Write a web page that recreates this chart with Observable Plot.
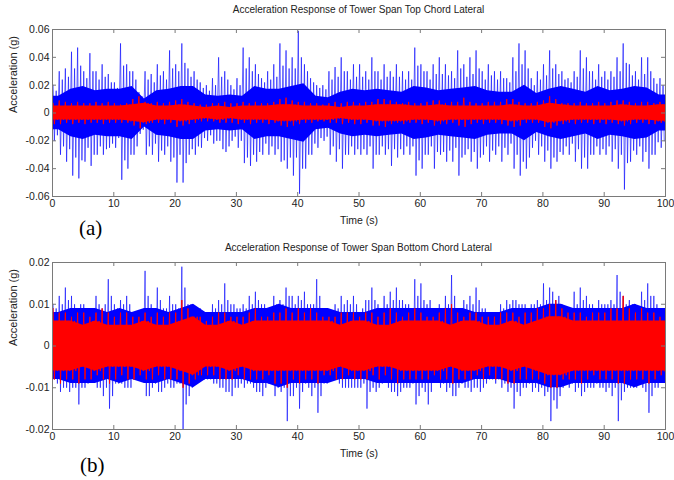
<!DOCTYPE html>
<html><head><meta charset="utf-8">
<script src="https://cdn.jsdelivr.net/npm/d3@7"></script>
<script src="https://cdn.jsdelivr.net/npm/@observablehq/plot@0.6"></script>
<style>
body{margin:0;background:#fff;}
#wrap{position:relative;width:674px;height:480px;font-family:"Liberation Sans",Arial,sans-serif;overflow:hidden;}
.title{position:absolute;left:52px;width:613px;text-align:center;font-size:10px;color:#222;line-height:12px;}
.tag{position:absolute;font-family:"Liberation Serif","Times New Roman",serif;font-size:21px;color:#000;line-height:24px;}
.panel{position:absolute;left:0;}
</style></head><body>
<div id="wrap">
 <div class="panel" id="pa" style="top:0"></div>
 <div class="panel" id="pb" style="top:240px"></div>
 <div class="title" style="top:4px">Acceleration Response of Tower Span Top Chord Lateral</div>
 <div class="title" style="top:242px">Acceleration Response of Tower Span Bottom Chord Lateral</div>
 <div class="tag" style="left:79px;top:216px">(a)</div>
 <div class="tag" style="left:80px;top:453px">(b)</div>
</div>
<script>
// ---- shared ticks ----
const timeTicks = [0,10,20,30,40,50,60,70,80,90,100];
const topYTicks = [-0.06,-0.04,-0.02,0,0.02,0.04,0.06];
const botYTicks = [-0.02,-0.01,0,0.01,0.02];

// ---- (a) Top chord: per-second blue peaks ----
const topBlueUp = [0.02,0.03,0.032,0.044,0.047,0.03,0.043,0.03,0.035,0.028,
 0.022,0.05,0.035,0.03,0.015,0.03,0.028,0.035,0.03,0.045,
 0.035,0.05,0.032,0.03,0.022,0.02,0.025,0.04,0.03,0.02,
 0.025,0.047,0.04,0.035,0.025,0.03,0.035,0.05,0.045,0.04,
 0.059,0.035,0.025,0.02,0.02,0.03,0.033,0.04,0.03,0.035,
 0.035,0.03,0.04,0.03,0.035,0.03,0.035,0.03,0.03,0.047,
 0.035,0.03,0.035,0.04,0.035,0.03,0.045,0.035,0.04,0.045,
 0.03,0.035,0.03,0.03,0.025,0.04,0.05,0.045,0.025,0.03,
 0.035,0.045,0.035,0.03,0.025,0.03,0.045,0.04,0.03,0.035,
 0.03,0.03,0.04,0.05,0.035,0.03,0.04,0.04,0.025,0.025];
const topBlueDown = [-0.02,-0.03,-0.035,-0.045,-0.047,-0.035,-0.038,-0.03,-0.03,-0.025,
 -0.025,-0.048,-0.04,-0.03,-0.015,-0.03,-0.03,-0.035,-0.03,-0.035,
 -0.05,-0.05,-0.03,-0.03,-0.025,-0.02,-0.022,-0.02,-0.028,-0.02,
 -0.025,-0.036,-0.038,-0.035,-0.03,-0.03,-0.03,-0.035,-0.04,-0.045,
 -0.058,-0.04,-0.03,-0.025,-0.02,-0.03,-0.035,-0.04,-0.03,-0.03,
 -0.03,-0.03,-0.04,-0.03,-0.03,-0.038,-0.032,-0.03,-0.03,-0.045,
 -0.04,-0.03,-0.04,-0.03,-0.035,-0.035,-0.045,-0.03,-0.035,-0.04,
 -0.03,-0.035,-0.03,-0.035,-0.03,-0.04,-0.045,-0.04,-0.025,-0.03,
 -0.035,-0.04,-0.035,-0.03,-0.03,-0.035,-0.04,-0.04,-0.03,-0.03,
 -0.03,-0.035,-0.04,-0.055,-0.035,-0.03,-0.035,-0.04,-0.03,-0.025];
// per second: typical secondary swing
const topBlueMid = [0.016,0.024,0.026,0.032,0.034,0.025,0.03,0.024,0.026,0.022,
 0.018,0.034,0.03,0.024,0.012,0.024,0.022,0.027,0.024,0.032,
 0.03,0.036,0.026,0.024,0.018,0.016,0.02,0.026,0.024,0.017,
 0.02,0.032,0.03,0.028,0.022,0.024,0.026,0.034,0.032,0.032,
 0.04,0.03,0.022,0.018,0.017,0.024,0.026,0.03,0.024,0.026,
 0.026,0.024,0.03,0.024,0.026,0.026,0.026,0.024,0.024,0.034,
 0.03,0.024,0.028,0.028,0.027,0.025,0.032,0.026,0.028,0.032,
 0.024,0.027,0.024,0.025,0.022,0.03,0.035,0.032,0.02,0.024,
 0.027,0.032,0.028,0.024,0.022,0.026,0.032,0.03,0.024,0.026,
 0.024,0.026,0.03,0.036,0.027,0.024,0.028,0.03,0.021,0.02];
// per 2 s: dense blue core half-width
const topBlueCore = [0.012,0.017,0.019,0.016,0.017,0.017,0.019,0.01,0.016,0.017,
 0.019,0.019,0.013,0.012,0.013,0.012,0.019,0.017,0.017,0.019,
 0.021,0.012,0.011,0.015,0.017,0.016,0.017,0.016,0.015,0.019,
 0.018,0.016,0.017,0.018,0.019,0.016,0.015,0.015,0.02,0.014,
 0.017,0.019,0.017,0.015,0.019,0.016,0.017,0.019,0.018,0.013];
// red: per-second peaks, per 2 s core
const topRedUp = [0.007,0.009,0.008,0.007,0.008,0.007,0.007,0.008,0.007,0.008,
 0.007,0.006,0.007,0.01,0.012,0.008,0.007,0.008,0.007,0.008,
 0.009,0.01,0.008,0.007,0.006,0.006,0.007,0.007,0.008,0.007,
 0.007,0.008,0.007,0.008,0.007,0.007,0.008,0.01,0.011,0.009,
 0.008,0.008,0.007,0.007,0.006,0.007,0.008,0.007,0.008,0.008,
 0.007,0.008,0.008,0.01,0.01,0.009,0.008,0.007,0.008,0.007,
 0.007,0.008,0.009,0.009,0.007,0.008,0.008,0.011,0.008,0.007,
 0.007,0.008,0.008,0.008,0.01,0.01,0.008,0.007,0.007,0.008,
 0.009,0.012,0.01,0.007,0.007,0.007,0.008,0.007,0.007,0.008,
 0.007,0.008,0.009,0.009,0.008,0.007,0.008,0.008,0.007,0.008];
const topRedDown = [-0.008,-0.008,-0.007,-0.008,-0.007,-0.008,-0.007,-0.007,-0.008,-0.007,
 -0.007,-0.007,-0.007,-0.009,-0.011,-0.008,-0.007,-0.007,-0.008,-0.007,
 -0.01,-0.009,-0.008,-0.007,-0.006,-0.006,-0.006,-0.007,-0.007,-0.007,
 -0.008,-0.007,-0.008,-0.007,-0.007,-0.008,-0.007,-0.009,-0.01,-0.009,
 -0.008,-0.007,-0.007,-0.006,-0.006,-0.007,-0.007,-0.008,-0.007,-0.008,
 -0.008,-0.007,-0.009,-0.009,-0.01,-0.008,-0.007,-0.008,-0.007,-0.007,
 -0.008,-0.007,-0.009,-0.008,-0.008,-0.007,-0.009,-0.01,-0.008,-0.007,
 -0.008,-0.007,-0.007,-0.008,-0.009,-0.01,-0.009,-0.007,-0.007,-0.007,
 -0.01,-0.011,-0.009,-0.008,-0.007,-0.008,-0.007,-0.007,-0.008,-0.007,
 -0.008,-0.007,-0.008,-0.009,-0.008,-0.007,-0.007,-0.008,-0.008,-0.007];
const topRedCore = [0.005,0.005,0.005,0.005,0.005,0.005,0.006,0.007,0.005,0.005,
 0.006,0.005,0.004,0.005,0.004,0.005,0.005,0.005,0.006,0.006,
 0.005,0.005,0.005,0.004,0.005,0.005,0.006,0.006,0.006,0.005,
 0.005,0.006,0.005,0.005,0.005,0.005,0.005,0.006,0.005,0.005,
 0.007,0.006,0.005,0.005,0.005,0.005,0.006,0.005,0.005,0.006];

// ---- (b) Bottom chord ----
const botBlueUp = [0.01,0.012,0.014,0.012,0.008,0.01,0.009,0.012,0.009,0.016,
 0.01,0.011,0.012,0.008,0.007,0.018,0.01,0.014,0.009,0.012,
 0.01,0.019,0.01,0.008,0.009,0.008,0.01,0.011,0.015,0.01,
 0.009,0.01,0.012,0.013,0.01,0.008,0.012,0.011,0.014,0.012,
 0.012,0.013,0.01,0.016,0.009,0.008,0.01,0.012,0.011,0.012,
 0.008,0.011,0.014,0.01,0.012,0.013,0.014,0.011,0.01,0.016,
 0.015,0.01,0.009,0.01,0.012,0.017,0.009,0.011,0.012,0.014,
 0.009,0.008,0.008,0.01,0.011,0.011,0.01,0.01,0.01,0.011,
 0.015,0.014,0.011,0.01,0.009,0.013,0.014,0.012,0.01,0.011,
 0.01,0.011,0.017,0.012,0.011,0.01,0.013,0.015,0.012,0.009];
const botBlueDown = [-0.008,-0.011,-0.01,-0.01,-0.014,-0.01,-0.008,-0.01,-0.012,-0.015,
 -0.009,-0.009,-0.01,-0.008,-0.007,-0.012,-0.01,-0.011,-0.01,-0.01,
 -0.009,-0.02,-0.012,-0.008,-0.007,-0.008,-0.009,-0.01,-0.011,-0.012,
 -0.01,-0.01,-0.009,-0.011,-0.012,-0.009,-0.012,-0.011,-0.018,-0.012,
 -0.015,-0.009,-0.012,-0.016,-0.009,-0.008,-0.008,-0.01,-0.01,-0.01,
 -0.01,-0.015,-0.01,-0.01,-0.008,-0.011,-0.012,-0.01,-0.01,-0.014,
 -0.01,-0.014,-0.008,-0.01,-0.011,-0.012,-0.01,-0.01,-0.011,-0.01,
 -0.01,-0.008,-0.009,-0.01,-0.011,-0.015,-0.012,-0.01,-0.011,-0.011,
 -0.012,-0.018,-0.015,-0.01,-0.01,-0.011,-0.012,-0.01,-0.01,-0.01,
 -0.011,-0.012,-0.018,-0.011,-0.01,-0.01,-0.01,-0.016,-0.01,-0.008];
const botBlueMid = [0.009,0.01,0.011,0.01,0.01,0.009,0.008,0.01,0.01,0.012,
 0.009,0.01,0.01,0.008,0.007,0.012,0.009,0.011,0.009,0.01,
 0.009,0.014,0.01,0.008,0.008,0.008,0.009,0.01,0.011,0.01,
 0.009,0.009,0.01,0.011,0.01,0.008,0.01,0.01,0.012,0.01,
 0.011,0.01,0.01,0.012,0.009,0.008,0.009,0.01,0.01,0.01,
 0.009,0.011,0.011,0.009,0.01,0.011,0.011,0.01,0.009,0.012,
 0.011,0.011,0.008,0.009,0.01,0.012,0.009,0.01,0.01,0.011,
 0.009,0.008,0.008,0.009,0.01,0.011,0.01,0.009,0.01,0.01,
 0.011,0.013,0.012,0.009,0.009,0.01,0.011,0.01,0.009,0.01,
 0.01,0.01,0.013,0.01,0.01,0.009,0.011,0.012,0.01,0.008];
const botBlueCore = [0.008,0.009,0.009,0.009,0.008,0.009,0.008,0.009,0.009,0.008,
 0.009,0.01,0.008,0.008,0.008,0.008,0.009,0.009,0.01,0.009,
 0.009,0.009,0.009,0.008,0.008,0.008,0.009,0.009,0.009,0.009,
 0.009,0.009,0.009,0.009,0.008,0.008,0.008,0.009,0.009,0.009,
 0.01,0.01,0.009,0.009,0.009,0.009,0.009,0.01,0.009,0.009];
const botRedUp = [0.009,0.008,0.008,0.007,0.008,0.008,0.007,0.008,0.009,0.008,
 0.007,0.008,0.008,0.007,0.007,0.008,0.007,0.008,0.007,0.008,
 0.008,0.011,0.009,0.007,0.007,0.006,0.007,0.008,0.008,0.007,
 0.007,0.007,0.008,0.009,0.007,0.007,0.008,0.008,0.009,0.008,
 0.009,0.008,0.009,0.008,0.007,0.007,0.007,0.008,0.008,0.008,
 0.007,0.008,0.008,0.007,0.008,0.009,0.008,0.007,0.008,0.009,
 0.008,0.007,0.007,0.008,0.009,0.01,0.008,0.007,0.008,0.008,
 0.007,0.007,0.007,0.008,0.008,0.008,0.007,0.008,0.008,0.009,
 0.009,0.01,0.011,0.009,0.008,0.008,0.008,0.007,0.008,0.008,
 0.008,0.009,0.009,0.012,0.009,0.008,0.009,0.008,0.008,0.007];
const botRedDown = [-0.008,-0.009,-0.008,-0.008,-0.009,-0.008,-0.008,-0.007,-0.008,-0.009,
 -0.008,-0.007,-0.008,-0.008,-0.007,-0.008,-0.008,-0.007,-0.008,-0.008,
 -0.008,-0.01,-0.009,-0.008,-0.007,-0.007,-0.007,-0.008,-0.008,-0.008,
 -0.007,-0.008,-0.008,-0.008,-0.008,-0.007,-0.009,-0.009,-0.01,-0.008,
 -0.009,-0.008,-0.008,-0.009,-0.007,-0.007,-0.008,-0.008,-0.007,-0.008,
 -0.008,-0.008,-0.007,-0.008,-0.007,-0.008,-0.009,-0.008,-0.008,-0.008,
 -0.008,-0.008,-0.007,-0.008,-0.008,-0.009,-0.008,-0.008,-0.008,-0.007,
 -0.008,-0.007,-0.008,-0.008,-0.009,-0.009,-0.008,-0.008,-0.008,-0.008,
 -0.009,-0.01,-0.01,-0.008,-0.008,-0.008,-0.009,-0.008,-0.007,-0.008,
 -0.008,-0.008,-0.009,-0.009,-0.008,-0.008,-0.008,-0.009,-0.008,-0.007];
const botRedCore = [0.006,0.006,0.005,0.006,0.005,0.005,0.005,0.006,0.005,0.005,
 0.006,0.007,0.005,0.005,0.006,0.005,0.006,0.006,0.006,0.006,
 0.006,0.006,0.006,0.005,0.006,0.006,0.005,0.005,0.006,0.006,
 0.006,0.006,0.005,0.006,0.006,0.005,0.005,0.006,0.005,0.006,
 0.007,0.007,0.006,0.006,0.006,0.006,0.006,0.006,0.006,0.006];

// per second: big swing (peak up -> peak down), then a secondary swing
function zig(up, down, mid) {
  const out = [];
  for (let i = 0; i < up.length; i++) {
    const m = mid.length === up.length ? mid[i] : mid[Math.floor(i / 2)];
    out.push({t: i + 0.1, v: up[i]}, {t: i + 0.3, v: down[i]}, {t: i + 0.6, v: m}, {t: i + 0.8, v: -m});
  }
  return out;
}
function band(core) {
  const out = core.map((c, j) => ({t: 2 * j + 1, c}));
  out.unshift({t: 0, c: core[0]});
  out.push({t: 100, c: core[core.length - 1]});
  return out;
}

function panel(o) {
  const W = 674, H = 240, ml = 52, mr = 9;
  const plotH = H - o.mt - o.mb, plotW = W - ml - mr;
  const axisCol = "#7a7a7a";
  const fmt = d => d === 0 ? "0" : d.toFixed(2);
  return Plot.plot({
    width: W, height: H, marginLeft: ml, marginRight: mr, marginTop: o.mt, marginBottom: o.mb,
    style: {fontFamily: "'Liberation Sans', Arial, sans-serif", fontSize: "10.5px", color: "#222", background: "#fff"},
    x: {domain: [0, 100]},
    y: {domain: o.yDomain},
    marks: [
      Plot.areaY(band(o.blueCore), {x: "t", y1: d => -d.c, y2: d => d.c, fill: "#0000ff", curve: "linear"}),
      Plot.line(zig(o.blueUp, o.blueDown, o.blueMid), {x: "t", y: "v", stroke: "#0000ff", strokeWidth: 0.75, strokeOpacity: 0.8, clip: true}),
      Plot.areaY(band(o.redCore), {x: "t", y1: d => -d.c, y2: d => d.c, fill: "#ff0000", curve: "linear"}),
      Plot.line(zig(o.redUp, o.redDown, o.redCore), {x: "t", y: "v", stroke: "#ff0000", strokeWidth: 1, clip: true}),
      Plot.frame({stroke: axisCol}),
      Plot.ruleX(timeTicks, {x: d => d, insetTop: plotH - 4, stroke: axisCol}),
      Plot.ruleX(timeTicks, {x: d => d, insetBottom: plotH - 4, stroke: axisCol}),
      Plot.ruleY(o.yTicks, {y: d => d, insetRight: plotW - 4, stroke: axisCol}),
      Plot.ruleY(o.yTicks, {y: d => d, insetLeft: plotW - 4, stroke: axisCol}),
      Plot.axisX({ticks: timeTicks, tickSize: 0, tickPadding: 3, label: null}),
      Plot.axisY({ticks: o.yTicks, tickSize: 0, tickPadding: 3, tickFormat: fmt, label: null}),
      Plot.text(["Acceleration (g)"], {text: d => d, frameAnchor: "left", rotate: -90, dx: -39, fontSize: 11}),
      Plot.text(["Time (s)"], {text: d => d, frameAnchor: "bottom", lineAnchor: "middle", dy: 24, fontSize: 10.5})
    ]
  });
}

document.getElementById("pa").append(panel({
  mt: 29, mb: 44, yDomain: [-0.06, 0.06], yTicks: topYTicks,
  blueUp: topBlueUp, blueDown: topBlueDown, blueMid: topBlueMid, blueCore: topBlueCore,
  redUp: topRedUp, redDown: topRedDown, redCore: topRedCore
}));
document.getElementById("pb").append(panel({
  mt: 22, mb: 51, yDomain: [-0.02, 0.02], yTicks: botYTicks,
  blueUp: botBlueUp, blueDown: botBlueDown, blueMid: botBlueMid, blueCore: botBlueCore,
  redUp: botRedUp, redDown: botRedDown, redCore: botRedCore
}));
</script>
</body></html>
